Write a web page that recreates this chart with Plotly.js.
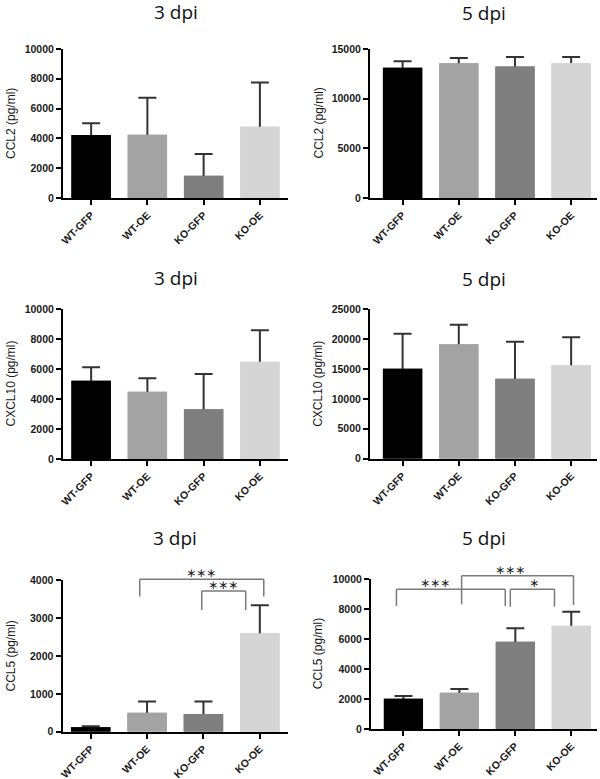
<!DOCTYPE html>
<html>
<head>
<meta charset="utf-8">
<script src="https://cdn.plot.ly/plotly-3.0.1.min.js"></script>
<style>html,body{margin:0;padding:0;background:#fff;}#chart{width:600px;height:779px;}</style>
</head>
<body>
<div id="chart"></div>
<script>
// ---------- data ----------
const categories = ['WT-GFP', 'WT-OE', 'KO-GFP', 'KO-OE'];

const ccl2_3dpi = [4230, 4250, 1490, 4780];
const ccl2_3dpi_sd = [790, 2470, 1460, 2980];
const ccl2_5dpi = [13120, 13560, 13250, 13590];
const ccl2_5dpi_sd = [640, 540, 940, 600];

const cxcl10_3dpi = [5220, 4490, 3310, 6490];
const cxcl10_3dpi_sd = [890, 890, 2350, 2090];
const cxcl10_5dpi = [15030, 19100, 13360, 15600];
const cxcl10_5dpi_sd = [5840, 3270, 6180, 4680];

const ccl5_3dpi = [120, 500, 470, 2600];
const ccl5_3dpi_sd = [25, 300, 330, 740];
const ccl5_5dpi = [2020, 2420, 5830, 6900];
const ccl5_5dpi_sd = [180, 250, 900, 940];

// significance brackets (x in category index units, y in pg/ml)
const ccl5_3dpi_sig_x0 = [0.87, 1.97];
const ccl5_3dpi_sig_x1 = [3.07, 2.75];
const ccl5_3dpi_sig_y = [4026, 3717];
const ccl5_3dpi_sig_leg0 = [3572, 3215];
const ccl5_3dpi_sig_leg1 = [3572, 3215];
const ccl5_3dpi_sig_label = ['***', '***'];
const ccl5_3dpi_sig_labelx = [1.95, 2.34];

const ccl5_5dpi_sig_x0 = [-0.125, 1.04, 1.91];
const ccl5_5dpi_sig_x1 = [1.82, 3.04, 2.70];
const ccl5_5dpi_sig_y = [9332, 10240, 9332];
const ccl5_5dpi_sig_leg0 = [8216, 8330, 8170];
const ccl5_5dpi_sig_leg1 = [8216, 8283, 8170];
const ccl5_5dpi_sig_label = ['***', '***', '*'];
const ccl5_5dpi_sig_labelx = [0.57, 1.905, 2.34];

const barColors = ['#000000', '#a3a3a3', '#7f7f7f', '#d5d5d5'];

// ---------- panels ----------
const W = 600, H = 779;
const panels = [
  {mean: ccl2_3dpi, sd: ccl2_3dpi_sd, ymax: 10000, dtick: 2000, ytitle: 'CCL2 (pg/ml)', title: '3 dpi',
   px: [63, 288], py: [49, 198], xr: [-0.5, 3.5], titleY: 12, ytX: 10.5},
  {mean: ccl2_5dpi, sd: ccl2_5dpi_sd, ymax: 15000, dtick: 5000, ytitle: 'CCL2 (pg/ml)', title: '5 dpi',
   px: [370, 597], py: [49, 198], xr: [-0.58, 3.46], titleY: 12.5, ytX: 318},
  {mean: cxcl10_3dpi, sd: cxcl10_3dpi_sd, ymax: 10000, dtick: 2000, ytitle: 'CXCL10 (pg/ml)', title: '3 dpi',
   px: [63, 288], py: [309, 459], xr: [-0.5, 3.5], titleY: 278, ytX: 10.5},
  {mean: cxcl10_5dpi, sd: cxcl10_5dpi_sd, ymax: 25000, dtick: 5000, ytitle: 'CXCL10 (pg/ml)', title: '5 dpi',
   px: [370, 597], py: [309, 458.7], xr: [-0.58, 3.46], titleY: 278.5, ytX: 318},
  {mean: ccl5_3dpi, sd: ccl5_3dpi_sd, ymax: 4000, dtick: 1000, ytitle: 'CCL5 (pg/ml)', title: '3 dpi',
   px: [62.5, 288], py: [580.3, 731.7], xr: [-0.5, 3.5], titleY: 538, ytX: 10.5,
   sig: {x0: ccl5_3dpi_sig_x0, x1: ccl5_3dpi_sig_x1, y: ccl5_3dpi_sig_y, leg0: ccl5_3dpi_sig_leg0,
         leg1: ccl5_3dpi_sig_leg1, label: ccl5_3dpi_sig_label, lx: ccl5_3dpi_sig_labelx}},
  {mean: ccl5_5dpi, sd: ccl5_5dpi_sd, ymax: 10000, dtick: 2000, ytitle: 'CCL5 (pg/ml)', title: '5 dpi',
   px: [371, 597], py: [579.3, 729], xr: [-0.58, 3.46], titleY: 538, ytX: 318,
   sig: {x0: ccl5_5dpi_sig_x0, x1: ccl5_5dpi_sig_x1, y: ccl5_5dpi_sig_y, leg0: ccl5_5dpi_sig_leg0,
         leg1: ccl5_5dpi_sig_leg1, label: ccl5_5dpi_sig_label, lx: ccl5_5dpi_sig_labelx}}
];

const yTickFont = {family: 'Liberation Sans, Arial, sans-serif', size: 10.5, color: '#1a1a1a', weight: 'bold'};
const xTickFont = {family: 'Liberation Sans, Arial, sans-serif', size: 10.5, color: '#1a1a1a', weight: 'bold'};
const traces = [];
const layout = {
  width: W, height: H,
  margin: {l: 0, r: 0, t: 0, b: 0},
  paper_bgcolor: '#ffffff', plot_bgcolor: 'rgba(0,0,0,0)',
  showlegend: false, hovermode: false,
  barmode: 'overlay', bargap: 0.3,
  shapes: [], annotations: []
};

panels.forEach((p, i) => {
  const n = i + 1;
  const xa = 'x' + n, ya = 'y' + n;
  // bar with symmetric SD bar; its lower half is hidden by the overlaid copy
  traces.push({
    type: 'bar', x: categories, y: p.mean, xaxis: xa, yaxis: ya,
    marker: {color: barColors, line: {width: 0}},
    error_y: {type: 'data', array: p.sd, arrayminus: p.sd, symmetric: false,
              color: '#333333', thickness: 2, width: 9}
  });
  traces.push({
    type: 'bar', x: categories, y: p.mean, xaxis: xa, yaxis: ya,
    marker: {color: barColors, line: {width: 0}}
  });

  layout['xaxis' + n] = {
    domain: [p.px[0] / W, p.px[1] / W], anchor: ya,
    type: 'category', range: p.xr, fixedrange: true,
    showline: true, linecolor: '#000', linewidth: 2,
    ticks: 'outside', ticklen: 5, tickwidth: 2, tickcolor: '#000',
    tickangle: -45, tickfont: xTickFont, showgrid: false, zeroline: false
  };
  layout['yaxis' + n] = {
    domain: [1 - p.py[1] / H, 1 - p.py[0] / H], anchor: xa,
    range: [0, p.ymax], tick0: 0, dtick: p.dtick, fixedrange: true,
    tickformat: 'd',
    showline: true, linecolor: '#000', linewidth: 2,
    ticks: 'outside', ticklen: 5, tickwidth: 2, tickcolor: '#000',
    tickfont: yTickFont, showgrid: false, zeroline: false
  };

  layout.annotations.push({
    text: p.title, xref: 'paper', yref: 'paper',
    x: (p.px[0] + p.px[1]) / 2 / W, y: 1 - p.titleY / H,
    xanchor: 'center', yanchor: 'middle', showarrow: false,
    font: {family: 'Open Sans, sans-serif', size: 19, color: '#111'}
  });
  layout.annotations.push({
    text: p.ytitle, xref: 'paper', yref: 'paper',
    x: p.ytX / W, y: 1 - (p.py[0] + p.py[1]) / 2 / H,
    xanchor: 'center', yanchor: 'middle', showarrow: false, textangle: -90,
    font: {family: 'Liberation Sans, Arial, sans-serif', size: 12, color: '#1a1a1a'}
  });

  if (p.sig) {
    const s = p.sig;
    const yd = ya + ' domain';
    s.x0.forEach((x0, k) => {
      const x1 = s.x1[k];
      const yTop = s.y[k] / p.ymax;
      const line = {color: '#7a7a7a', width: 1.5};
      layout.shapes.push({type: 'line', xref: xa, yref: yd, x0: x0, x1: x1, y0: yTop, y1: yTop, line: line});
      layout.shapes.push({type: 'line', xref: xa, yref: yd, x0: x0, x1: x0, y0: yTop, y1: s.leg0[k] / p.ymax, line: line});
      layout.shapes.push({type: 'line', xref: xa, yref: yd, x0: x1, x1: x1, y0: yTop, y1: s.leg1[k] / p.ymax, line: line});
      layout.annotations.push({
        text: s.label[k].replace(/\*/g, '\u2217'), xref: xa, yref: yd, x: s.lx[k], y: yTop,
        xanchor: 'center', yanchor: 'middle', yshift: 6, showarrow: false, borderpad: 0,
        font: {family: 'DejaVu Sans, sans-serif', size: 12, color: '#222'}
      });
    });
  }
});

Plotly.newPlot('chart', traces, layout, {staticPlot: true, displayModeBar: false});
</script>
</body>
</html>
